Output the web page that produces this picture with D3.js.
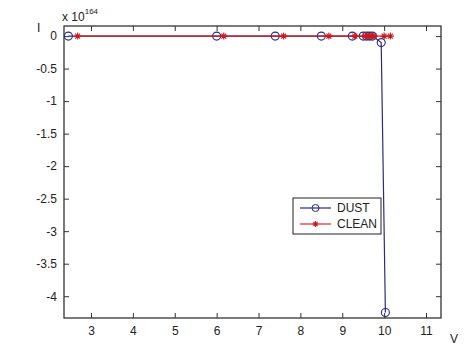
<!DOCTYPE html>
<html>
<head>
<meta charset="utf-8">
<script src="https://cdn.jsdelivr.net/npm/d3@7"></script>
<style>
  body { margin: 0; background: #fff; }
  text { font-family: "Liberation Sans", Arial, sans-serif; fill: #222; }
</style>
</head>
<body>
<svg width="469" height="353"></svg>
<script>
// values (y in units of 1e164)
var dustV = [2.46, 6.0, 7.4, 8.5, 9.24, 9.5, 9.58, 9.65, 9.72, 9.93, 10.03];
var dustI = [0, 0, 0, 0, 0, 0, 0, 0, 0, -0.1, -4.25];
var cleanV = [2.68, 6.17, 7.6, 8.68, 9.3, 9.55, 9.62, 9.69, 9.76, 10.0, 10.15];
var cleanI = [0, 0, 0, 0, 0, 0, 0, 0, 0, 0, 0];
var xTicks = [3, 4, 5, 6, 7, 8, 9, 10, 11];
var yTicks = [0, -0.5, -1, -1.5, -2, -2.5, -3, -3.5, -4];
var seriesNames = ["DUST", "CLEAN"];

var svg = d3.select("svg");
var mLeft = 64, mRight = 441, mTop = 26, mBottom = 318;

var x = d3.scaleLinear().domain([2.355, 11.358]).range([mLeft, mRight]);
var y = d3.scaleLinear().domain([-4.335, 0.155]).range([mBottom, mTop]);

var dust = dustV.map(function(v, i) { return { v: v, i: dustI[i] }; });
var clean = cleanV.map(function(v, i) { return { v: v, i: cleanI[i] }; });

var dustColor = "#2b2b80", cleanColor = "#d01818";

// axes, ticks inside on all four sides
var axisColor = "#333";
function styleAxis(g) {
  g.select(".domain").remove();
  g.selectAll(".tick line").attr("stroke", axisColor);
  g.selectAll(".tick text").attr("font-size", 12).attr("fill", "#222")
    .attr("font-family", "Liberation Sans, Arial, sans-serif");
}
svg.append("g").attr("transform", "translate(0," + mBottom + ")")
  .call(d3.axisBottom(x).tickValues(xTicks).tickSize(-5).tickPadding(8).tickFormat(d3.format("d")))
  .call(styleAxis);
svg.append("g").attr("transform", "translate(0," + mTop + ")")
  .call(d3.axisTop(x).tickValues(xTicks).tickSize(-5).tickFormat(""))
  .call(styleAxis);
svg.append("g").attr("transform", "translate(" + mLeft + ",0)")
  .call(d3.axisLeft(y).tickValues(yTicks).tickSize(-5).tickPadding(7).tickFormat(function(d) { return String(d); }))
  .call(styleAxis);
svg.append("g").attr("transform", "translate(" + mRight + ",0)")
  .call(d3.axisRight(y).tickValues(yTicks).tickSize(-5).tickFormat(""))
  .call(styleAxis);

svg.append("rect").attr("x", mLeft).attr("y", mTop)
  .attr("width", mRight - mLeft).attr("height", mBottom - mTop)
  .attr("fill", "none").attr("stroke", axisColor).attr("stroke-width", 1.3);

// exponent label and axis names
var ex = svg.append("text").attr("x", 62).attr("y", 21).attr("font-size", 12);
ex.append("tspan").text("x 10");
ex.append("tspan").attr("font-size", 8).attr("dy", -7).text("164");
svg.append("text").attr("x", 37).attr("y", 32).attr("font-size", 12).text("I");
svg.append("text").attr("x", 450).attr("y", 343).attr("font-size", 12).text("V");

var line = d3.line().x(function(d) { return x(d.v); }).y(function(d) { return y(d.i); });

function star(g, cx, cy, r) {
  var p = d3.path();
  p.moveTo(cx - r, cy); p.lineTo(cx + r, cy);
  p.moveTo(cx, cy - r); p.lineTo(cx, cy + r);
  var k = r * 0.7;
  p.moveTo(cx - k, cy - k); p.lineTo(cx + k, cy + k);
  p.moveTo(cx - k, cy + k); p.lineTo(cx + k, cy - k);
  g.append("path").attr("d", p.toString()).attr("stroke", cleanColor).attr("stroke-width", 1.1).attr("fill", "none");
}

var plot = svg.append("g");
plot.append("path").datum(dust).attr("d", line).attr("fill", "none")
  .attr("stroke", dustColor).attr("stroke-width", 1.2);
plot.selectAll("circle.dust").data(dust).enter().append("circle")
  .attr("class", "dust")
  .attr("cx", function(d) { return x(d.v); }).attr("cy", function(d) { return y(d.i); })
  .attr("r", 4).attr("fill", "none").attr("stroke", dustColor).attr("stroke-width", 1.1);

plot.append("path").datum(clean).attr("d", line).attr("fill", "none")
  .attr("stroke", cleanColor).attr("stroke-width", 1.1);
clean.forEach(function(d) { star(plot, x(d.v), y(d.i), 3.5); });

// legend
var lg = svg.append("g").attr("transform", "translate(293,198)");
lg.append("rect").attr("width", 88).attr("height", 36).attr("fill", "#fff")
  .attr("stroke", "#222").attr("stroke-width", 1);
lg.append("line").attr("x1", 7).attr("x2", 38).attr("y1", 10).attr("y2", 10)
  .attr("stroke", dustColor).attr("stroke-width", 1.2);
lg.append("circle").attr("cx", 22.5).attr("cy", 10).attr("r", 3.5)
  .attr("fill", "none").attr("stroke", dustColor);
lg.append("line").attr("x1", 7).attr("x2", 38).attr("y1", 26).attr("y2", 26)
  .attr("stroke", cleanColor).attr("stroke-width", 1.1);
star(lg, 22.5, 26, 3);
lg.selectAll("text.lab").data(seriesNames).enter().append("text")
  .attr("class", "lab")
  .attr("x", 44).attr("y", function(d, i) { return 14 + i * 16; })
  .attr("font-size", 12).text(function(d) { return d; });
</script>
</body>
</html>
